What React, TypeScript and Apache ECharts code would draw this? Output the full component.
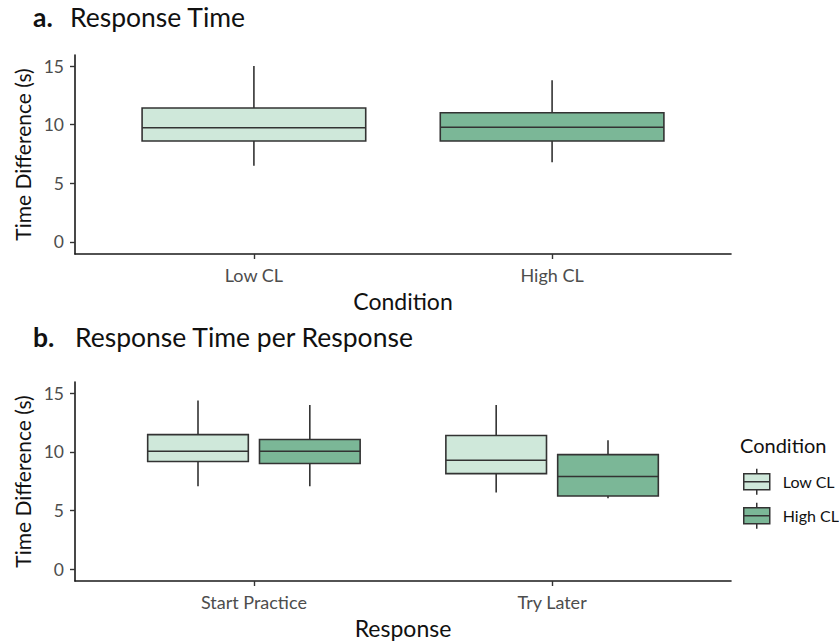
import React, { useEffect, useRef } from 'react';
import * as echarts from 'echarts';

// Categories
const conditions = ['Low CL', 'High CL'];
const responses = ['Start Practice', 'Try Later'];
const yTicks = [0, 5, 10, 15];

// Box statistics: [min, q1, median, q3, max]
const panelALow = [[6.5, 8.61, 9.74, 11.42, 15.0]];      // Low CL
const panelAHigh = [[6.79, 8.61, 9.78, 11.02, 13.78]];   // High CL
const panelBLow = [
  [7.06, 9.17, 10.04, 11.46, 14.36], // Start Practice
  [6.53, 8.14, 9.28, 11.38, 13.98],  // Try Later
];
const panelBHigh = [
  [7.06, 9.0, 10.04, 11.04, 13.98],  // Start Practice
  [6.04, 6.24, 7.89, 9.76, 10.98],   // Try Later
];

const LOW_FILL = '#cfe8da';
const HIGH_FILL = '#7bb797';
const STROKE = '#333333';
const AXIS = '#1a1a1a';
const TICKTXT = '#4d4d4d';
const FONT = 'Lato';

function makeRender(offset: number, width: number) {
  return (params: any, api: any) => {
    const x = api.value(0) + offset;
    const pMin = api.coord([x, api.value(1)]);
    const pQ1 = api.coord([x, api.value(2)]);
    const pMed = api.coord([x, api.value(3)]);
    const pQ3 = api.coord([x, api.value(4)]);
    const pMax = api.coord([x, api.value(5)]);
    const w = api.size([width, 0])[0];
    const cx = pMed[0];
    const fill = api.visual('color');
    const ls = { stroke: STROKE, lineWidth: 1.6 };
    return {
      type: 'group',
      children: [
        { type: 'line', shape: { x1: cx, y1: pMax[1], x2: cx, y2: pQ3[1] }, style: ls },
        { type: 'line', shape: { x1: cx, y1: pQ1[1], x2: cx, y2: pMin[1] }, style: ls },
        { type: 'rect', shape: { x: cx - w / 2, y: pQ3[1], width: w, height: pQ1[1] - pQ3[1] }, style: { fill, stroke: STROKE, lineWidth: 1.6 } },
        { type: 'line', shape: { x1: cx - w / 2, y1: pMed[1], x2: cx + w / 2, y2: pMed[1] }, style: ls },
      ],
    };
  };
}

function boxSeries(name: string, color: string, axisIndex: number, stats: number[][], positions: number[], offset: number, width: number) {
  return {
    type: 'custom',
    name,
    xAxisIndex: axisIndex,
    yAxisIndex: axisIndex,
    itemStyle: { color, borderColor: STROKE, borderWidth: 1.5 },
    encode: { x: 0, y: [1, 2, 3, 4, 5] },
    data: stats.map((s, i) => [positions[i], ...s]),
    renderItem: makeRender(offset, width),
    silent: true,
  };
}

function xAxisFor(gridIndex: number, cats: string[], name: string) {
  return {
    type: 'value',
    gridIndex,
    min: 0.4,
    max: cats.length + 0.6,
    name,
    nameLocation: 'middle',
    nameGap: 35,
    nameTextStyle: { fontFamily: FONT, fontSize: 23, color: '#111' },
    axisLine: { show: true, onZero: false, lineStyle: { color: AXIS, width: 1.6 } },
    axisTick: { show: true, length: 5, customValues: cats.map((_, i) => i + 1), lineStyle: { color: STROKE, width: 1.4 } },
    axisLabel: {
      customValues: cats.map((_, i) => i + 1),
      formatter: (v: number) => cats[Math.round(v) - 1] ?? '',
      fontFamily: FONT, fontSize: 18, color: TICKTXT, margin: 12,
    },
    splitLine: { show: false },
  };
}

function yAxisFor(gridIndex: number, min: number) {
  return {
    type: 'value',
    gridIndex,
    min,
    max: 15.94,
    name: 'Time Difference (s)',
    nameLocation: 'middle',
    nameGap: 40,
    nameTextStyle: { fontFamily: FONT, fontSize: 21, color: '#111' },
    axisLine: { show: true, onZero: false, lineStyle: { color: AXIS, width: 1.6 } },
    axisTick: { show: true, length: 5, customValues: yTicks, lineStyle: { color: STROKE, width: 1.4 } },
    axisLabel: { customValues: yTicks, fontFamily: FONT, fontSize: 17.5, color: TICKTXT, margin: 11 },
    splitLine: { show: false },
  };
}

const LEGEND_ICON = 'path://M0,5 L26,5 L26,21 L0,21 Z M0,13 L26,13 M13,0 L13,5 M13,21 L13,26';

const titleStyle = (bold: boolean, size: number) => ({
  fontFamily: FONT, fontSize: size, fontWeight: bold ? 'bold' : 'normal', color: '#111',
});

export default function App() {
  const ref = useRef<HTMLDivElement>(null);
  useEffect(() => {
    document.body.style.margin = '0';
    if (!ref.current) return;
    const chart = echarts.init(ref.current, undefined, { renderer: 'svg' });
    const dodge = 0.1875;
    const dodgeWidth = 0.3375;
    chart.setOption({
      animation: false,
      backgroundColor: '#ffffff',
      title: [
        { text: 'a.', left: 33, top: 3, padding: 0, textStyle: titleStyle(true, 26.5) },
        { text: 'Response Time', left: 70, top: 3, padding: 0, textStyle: titleStyle(false, 26.5) },
        { text: 'b.', left: 33, top: 323, padding: 0, textStyle: titleStyle(true, 26.5) },
        { text: 'Response Time per Response', left: 75, top: 323, padding: 0, textStyle: titleStyle(false, 26.5) },
        { text: 'Condition', left: 740, top: 435, padding: 0, textStyle: titleStyle(false, 20) },
      ],
      legend: {
        orient: 'vertical',
        left: 743,
        top: 468,
        padding: 0,
        itemWidth: 26,
        itemHeight: 26,
        itemGap: 6.6,
        icon: LEGEND_ICON,
        itemStyle: { borderColor: STROKE, borderWidth: 1.5 },
        textStyle: { fontFamily: FONT, fontSize: 16, color: '#111', padding: [0, 0, 0, 8] },
        data: ['Low CL', 'High CL'],
        selectedMode: false,
      },
      grid: [
        { left: 75, right: 108, top: 55, height: 199 },
        { left: 75, right: 108, top: 382, height: 199 },
      ],
      xAxis: [xAxisFor(0, conditions, 'Condition'), xAxisFor(1, responses, 'Response')],
      yAxis: [yAxisFor(0, -1.023), yAxisFor(1, -1.0)],
      series: [
        boxSeries('Low CL', LOW_FILL, 0, panelALow, [1], 0, 0.75),
        boxSeries('High CL', HIGH_FILL, 0, panelAHigh, [2], 0, 0.75),
        boxSeries('Low CL', LOW_FILL, 1, panelBLow, [1, 2], -dodge, dodgeWidth),
        boxSeries('High CL', HIGH_FILL, 1, panelBHigh, [1, 2], dodge, dodgeWidth),
      ],
    });
    return () => chart.dispose();
  }, []);
  return <div ref={ref} style={{ width: 839, height: 641 }} />;
}
